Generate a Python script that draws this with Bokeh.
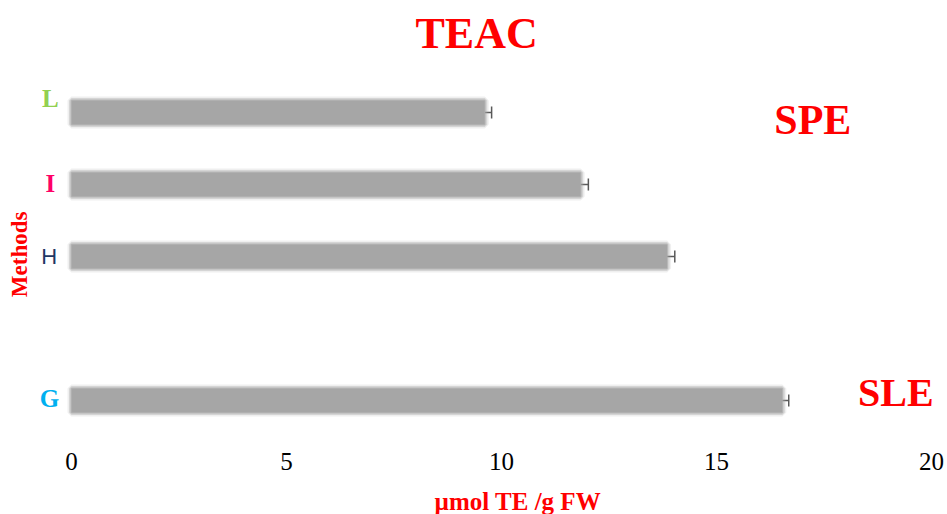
from bokeh.plotting import figure
from bokeh.models import ColumnDataSource, Label, Whisker, TeeHead, Range1d
from bokeh.core.properties import value
from bokeh.embed import file_html
from bokeh.resources import INLINE
import math

# ---- data ----
methods = ["G", "H", "I", "L"]
method_pos = [0, 2, 3, 4]
values = [16.53, 13.85, 11.84, 9.61]
errors = [0.15, 0.18, 0.18, 0.16]
method_colors = ["#00b0f0", "#1f3864", "#ff0066", "#92d050"]
method_fonts = ["Liberation Serif", "Liberation Sans", "Liberation Serif", "Liberation Serif"]
method_styles = ["bold", "normal", "bold", "bold"]
x_ticks = [0, 5, 10, 15, 20]
x_tick_labels = ["0", "5", "10", "15", "20"]

title_text = "TEAC"
group_labels = ["SPE", "SLE"]
x_label = "µmol TE /g FW"
y_label = "Methods"

RED = "#ff0000"
SERIF = "Liberation Serif"

# the plotting frame fills the whole canvas; ranges chosen so that
# x=0..20 spans the chart body and the texts around it stay visible
p = figure(width=947, height=514, output_backend="svg", toolbar_location=None,
           x_range=Range1d(-1.651, 20.372), y_range=Range1d(-1.5833, 5.5556),
           x_axis_location=None, y_axis_location=None,
           min_border_left=0, min_border_right=0, min_border_top=0, min_border_bottom=0)
p.outline_line_color = None
p.grid.visible = False
p.background_fill_color = "white"
p.border_fill_color = "white"

src = ColumnDataSource(dict(y=method_pos, v=values,
                            up=[v + e for v, e in zip(values, errors)]))

# error bars (drawn first so the bar covers their base)
wh = Whisker(source=src, base="y", lower="v", upper="up", dimension="width",
             line_color="#595959", line_width=1.5,
             upper_head=TeeHead(size=12, line_color="#595959", line_width=1.5),
             lower_head=None, level="underlay")
p.add_layout(wh)

BAR = "#a6a6a6"
# soft, blurred edges
p.hbar(y="y", left=0, right="v", height=0.33, source=src, fill_alpha=0,
       line_color=BAR, line_alpha=0.18, line_width=8)
p.hbar(y="y", left=0, right="v", height=0.33, source=src, fill_alpha=0,
       line_color=BAR, line_alpha=0.35, line_width=5)
p.hbar(y="y", left=0, right="v", height=0.33, source=src, fill_color=BAR,
       line_color=BAR, line_alpha=0.6, line_width=2)

# x tick labels (axis values through the x scale)
tick_src = ColumnDataSource(dict(x=x_ticks, y=[-0.847] * len(x_ticks), t=x_tick_labels))
p.text(x="x", y="y", text="t", source=tick_src, text_font=value(SERIF),
       text_font_size="25px", text_color="black",
       text_align="center", text_baseline="middle")

# method labels
label_x = [-0.51, -0.52, -0.49, -0.49]
label_y = [0.03, 2.0, 3.02, 4.19]
for m, lx, ly, c, f, s in zip(methods, label_x, label_y, method_colors, method_fonts, method_styles):
    p.add_layout(Label(x=lx, y=ly, text=m, text_color=c, text_font=f,
                       text_font_style=s, text_font_size="25px" if f == SERIF else "22px",
                       text_align="center", text_baseline="middle"))

p.add_layout(Label(x=9.42, y=5.097, text=title_text, text_color=RED, text_font=SERIF,
                   text_font_style="bold", text_font_size="44px",
                   text_align="center", text_baseline="middle"))
p.add_layout(Label(x=17.24, y=3.90, text=group_labels[0], text_color=RED, text_font=SERIF,
                   text_font_style="bold", text_font_size="42px",
                   text_align="center", text_baseline="middle"))
p.add_layout(Label(x=19.17, y=0.11, text=group_labels[1], text_color=RED, text_font=SERIF,
                   text_font_style="bold", text_font_size="40px",
                   text_align="center", text_baseline="middle"))
p.add_layout(Label(x=-1.21, y=2.03, text=y_label, text_color=RED, text_font=SERIF,
                   text_font_style="bold", text_font_size="23px", angle=math.pi / 2,
                   text_align="center", text_baseline="middle"))
p.add_layout(Label(x=10.38, y=-1.40, text=x_label, text_color=RED, text_font=SERIF,
                   text_font_style="bold", text_font_size="25px",
                   text_align="center", text_baseline="middle"))

open("out.html", "w").write(file_html(p, INLINE))
